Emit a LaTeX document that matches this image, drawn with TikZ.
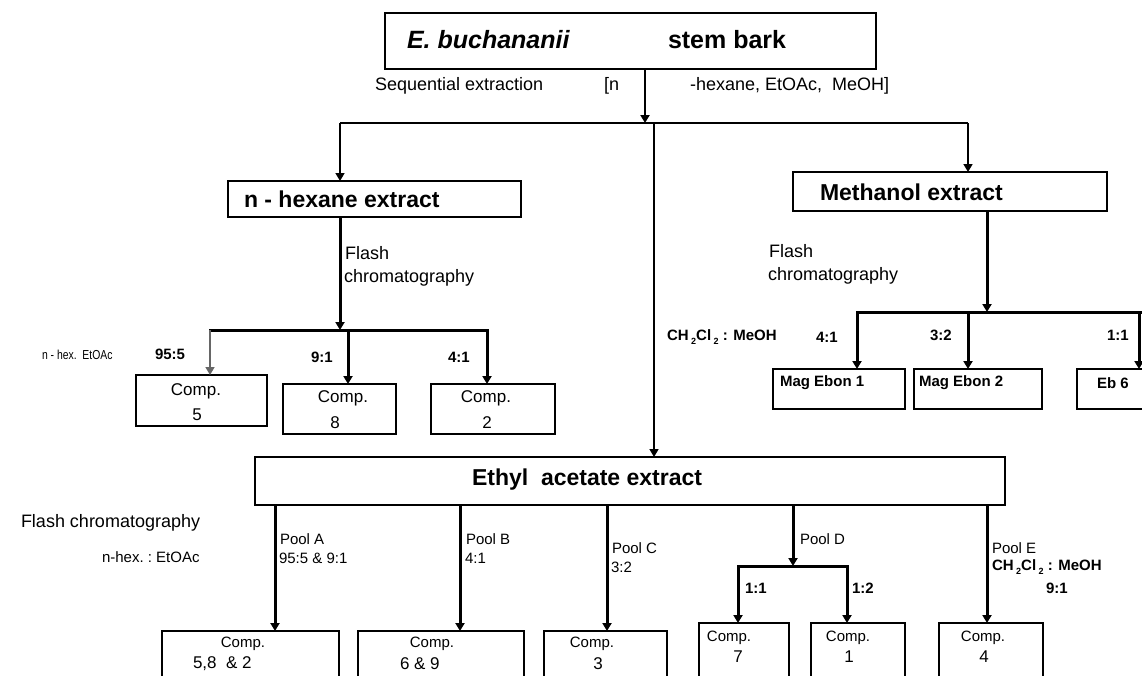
\documentclass[tikz,border=0pt]{standalone}
\usepackage{fontspec}
\setmainfont{Liberation Sans}
\usetikzlibrary{arrows.meta}
\newcommand{\fs}[1]{\fontsize{#1}{#1}\selectfont}
\newcommand{\subtwo}{\,\raisebox{-0.45ex}{\fs{9}2}}

\begin{document}
\begin{tikzpicture}[x=1pt,y=-1pt,
  box/.style={draw, line width=1.3pt, inner sep=0pt, outer sep=0pt, anchor=north west},
  txt/.style={inner sep=0pt, outer sep=0pt, anchor=west},
  ctxt/.style={inner sep=0pt, outer sep=0pt, anchor=center},
  head/.style={font=\fs{23}\bfseries},
  note/.style={font=\fs{18}},
  lab/.style={font=\fs{15}},
  labb/.style={font=\fs{15}\bfseries},
  comp/.style={font=\fs{17}},
  tip/.style={-{Triangle[length=8pt,width=9pt]}},
  thinline/.style={line width=1.6pt},
  midline/.style={line width=2.2pt},
  thickline/.style={line width=3pt},
]
\clip (0,0) rectangle (1142,675);
\fill[white] (0,0) rectangle (1142,675);

% ---------- source ----------
\node[box, minimum width=491pt, minimum height=56pt] (src) at (385,13) {};
\node[txt, font=\fs{25}\bfseries\itshape] (srcA) at (407,40) {E. buchananii};
\node[txt, font=\fs{25}\bfseries] (srcB) at (668,40) {stem bark};
\node[txt, note] (seq) at (375,86) {Sequential extraction};
\node[txt, note] (seqA) at (604,86) {[n};
\node[txt, note] (seqB) at (690,86) {-hexane, EtOAc,\ \ MeOH]};

% ---------- extracts ----------
\node[box, minimum width=293pt, minimum height=36pt] (hex) at (228,181) {};
\node[txt, head] (hexT) at (244,199) {n - hexane extract};
\node[box, minimum width=314pt, minimum height=39pt] (meth) at (793,172) {};
\node[txt, head] (methT) at (820,192) {Methanol extract};
\node[box, minimum width=750pt, minimum height=48pt] (eth) at (255,457) {};
\node[txt, head] (ethT) at (472,480) {Ethyl\ \ acetate extract};

\coordinate (j0) at (645,123);
\coordinate (jl) at (340,123);
\coordinate (jc) at (654,123);
\coordinate (jr) at (968,123);
\draw[tip, midline] (src.south -| j0) -- (j0);
\draw[thinline] (jl) -- (jr);
\draw[tip, thinline] (jl) -- (hex.north -| jl);
\draw[tip, thinline] (jr) -- (meth.north -| jr);
\draw[tip, thinline] (jc) -- (eth.north -| jc);

% ---------- n-hexane branch ----------
\node[box, minimum width=131pt, minimum height=51pt] (c5) at (136,375) {};
\node[box, minimum width=113pt, minimum height=50pt] (c8) at (283,384) {};
\node[box, minimum width=124pt, minimum height=50pt] (c2) at (431,384) {};
\node[ctxt, comp] (c5a) at (196,391) {Comp.};
\node[ctxt, comp] (c5b) at (197,415) {5};
\node[ctxt, comp] (c8a) at (343,398) {Comp.};
\node[ctxt, comp] (c8b) at (335,423) {8};
\node[ctxt, comp] (c2a) at (486,398) {Comp.};
\node[ctxt, comp] (c2b) at (487,423) {2};

\coordinate (hj) at (340,330);
\coordinate (h1) at (210,330);
\coordinate (h2) at (348,330);
\coordinate (h3) at (487,330);
\draw[tip, thickline] (hex.south -| hj) -- (hj);
\draw[thickline, line cap=rect] (h1) -- (h3);
\draw[tip, thinline, black!60] (h1) -- (c5.north -| h1);
\draw[tip, thickline] (h2) -- (c8.north -| h2);
\draw[tip, thickline] (h3) -- (c2.north -| h3);

\node[txt, note] (hf1) at (345,253) {Flash};
\node[txt, note] (hf2) at (344,278) {chromatography};
\node[txt, font=\fs{13}] (hsol) at (42,355) {\scalebox{0.8}[1]{n - hex.\ \ EtOAc}};
\node[txt, labb] (hr1) at (155,354) {95:5};
\node[txt, labb] (hr2) at (311,357) {9:1};
\node[txt, labb] (hr3) at (448,357) {4:1};

% ---------- methanol branch ----------
\node[box, minimum width=132pt, minimum height=40pt] (m1) at (773,369) {};
\node[box, minimum width=128pt, minimum height=40pt] (m2) at (914,369) {};
\node[box, minimum width=90pt, minimum height=40pt] (m3) at (1077,369) {};
\node[txt, labb] (m1T) at (780,383) {Mag Ebon 1};
\node[txt, labb] (m2T) at (919,383) {Mag Ebon 2};
\node[txt, labb] (m3T) at (1097,383) {Eb 6};

\coordinate (mj) at (987,312);
\coordinate (mk1) at (857,312);
\coordinate (mk2) at (968,312);
\coordinate (mk3) at (1139,312);
\coordinate (mend) at (1150,312);
\draw[tip, thickline] (meth.south -| mj) -- (mj);
\draw[thickline, line cap=rect] (mk1) -- (mend);
\draw[tip, thickline] (mk1) -- (m1.north -| mk1);
\draw[tip, thickline] (mk2) -- (m2.north -| mk2);
\draw[tip, thickline] (mk3) -- (m3.north -| mk3);

\node[txt, note] (mf1) at (769,251) {Flash};
\node[txt, note] (mf2) at (768,276) {chromatography};
\node[txt, labb] (msol) at (667,337) {CH\subtwo Cl\subtwo\ : MeOH};
\node[txt, labb] (mr1) at (816,337) {4:1};
\node[txt, labb] (mr2) at (930,335) {3:2};
\node[txt, labb] (mr3) at (1107,335) {1:1};

% ---------- ethyl acetate branch ----------
\node[box, minimum width=177pt, minimum height=60pt] (eA) at (162,631) {};
\node[box, minimum width=166pt, minimum height=60pt] (eB) at (358,631) {};
\node[box, minimum width=123pt, minimum height=60pt] (eC) at (544,631) {};
\node[box, minimum width=90pt, minimum height=60pt] (eD1) at (699,623) {};
\node[box, minimum width=94pt, minimum height=60pt] (eD2) at (811,623) {};
\node[box, minimum width=104pt, minimum height=60pt] (eE) at (939,623) {};

\node[ctxt, lab] (eAa) at (243,644) {Comp.};
\node[txt, comp] (eAb) at (193,664) {5,8\ \ \& 2};
\node[ctxt, lab] (eBa) at (432,644) {Comp.};
\node[txt, comp] (eBb) at (400,664) {6\ \& 9};
\node[ctxt, lab] (eCa) at (592,644) {Comp.};
\node[ctxt, comp] (eCb) at (598,664) {3};
\node[ctxt, lab] (eD1a) at (729,638) {Comp.};
\node[ctxt, comp] (eD1b) at (738,657) {7};
\node[ctxt, lab] (eD2a) at (848,638) {Comp.};
\node[ctxt, comp] (eD2b) at (849,657) {1};
\node[ctxt, lab] (eEa) at (983,638) {Comp.};
\node[ctxt, comp] (eEb) at (984,657) {4};

\coordinate (pa) at (275,505);
\coordinate (pb) at (460,505);
\coordinate (pc) at (607,505);
\coordinate (pd) at (793,505);
\coordinate (pe) at (987,505);
\coordinate (dj) at (793,566);
\coordinate (d1) at (738,566);
\coordinate (d2) at (847,566);
\draw[tip, thickline] (eth.south -| pa) -- (eA.north -| pa);
\draw[tip, thickline] (eth.south -| pb) -- (eB.north -| pb);
\draw[tip, thickline] (eth.south -| pc) -- (eC.north -| pc);
\draw[tip, thickline] (eth.south -| pd) -- (dj);
\draw[thickline, line cap=rect] (d1) -- (d2);
\draw[tip, thickline] (d1) -- (eD1.north -| d1);
\draw[tip, thickline] (d2) -- (eD2.north -| d2);
\draw[tip, thickline] (eth.south -| pe) -- (eE.north -| pe);

\node[txt, note] (ef) at (21,523) {Flash chromatography};
\node[txt, lab] (esol) at (102,557) {n-hex.\ :\ EtOAc};
\node[txt, lab] (pAa) at (280,539) {Pool A};
\node[txt, lab] (pAb) at (279,558) {95:5 \& 9:1};
\node[txt, lab] (pBa) at (466,539) {Pool B};
\node[txt, lab] (pBb) at (465,558) {4:1};
\node[txt, lab] (pCa) at (612,548) {Pool C};
\node[txt, lab] (pCb) at (611,567) {3:2};
\node[txt, lab] (pDa) at (800,539) {Pool D};
\node[txt, labb] (pDb) at (745,588) {1:1};
\node[txt, labb] (pDc) at (852,588) {1:2};
\node[txt, lab] (pEa) at (992,548) {Pool E};
\node[txt, labb] (pEb) at (992,567) {CH\subtwo Cl\subtwo\ : MeOH};
\node[txt, labb] (pEc) at (1046,588) {9:1};
\end{tikzpicture}
\end{document}
